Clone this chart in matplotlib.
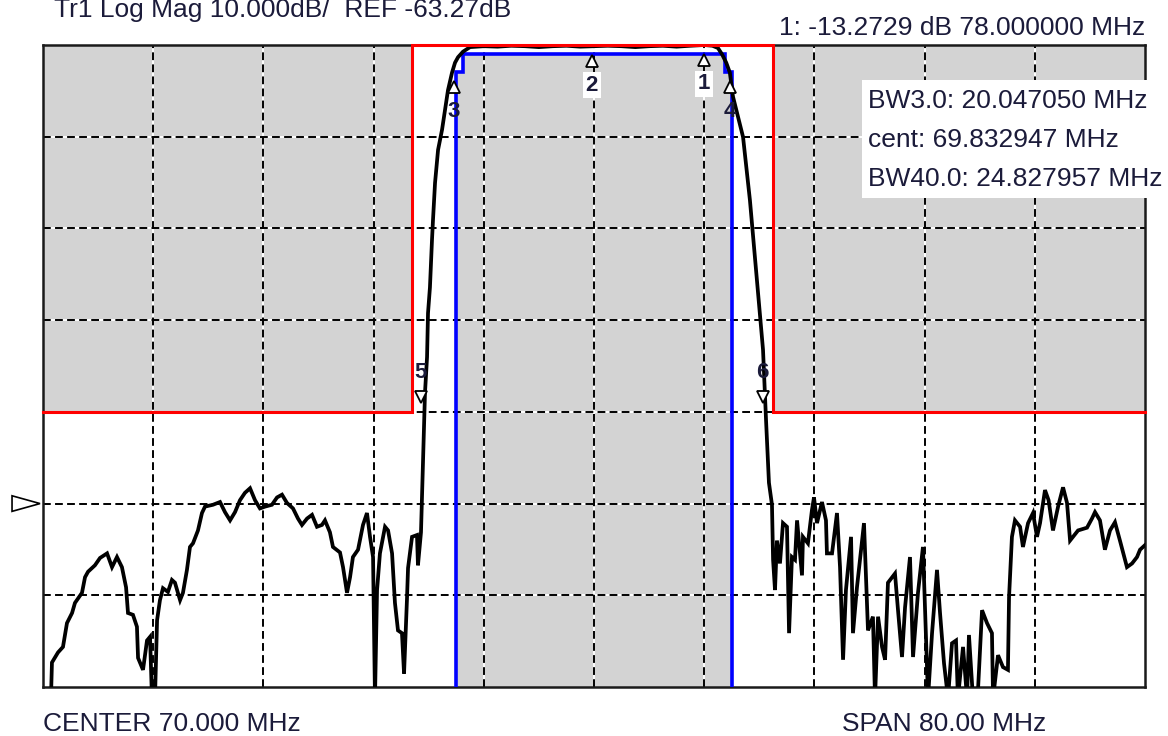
import matplotlib
matplotlib.use("Agg")
import matplotlib.pyplot as plt
import matplotlib.transforms as mtransforms
from matplotlib.patches import Polygon, Rectangle
import numpy as np

plt.rcParams['font.family'] = ['Liberation Sans', 'DejaVu Sans']

# ---------------- instrument settings ----------------
CENTER_MHZ = 70.0
SPAN_MHZ = 80.0
REF_DB = -63.27
SCALE_DB = 10.0
N_XDIV = 10
N_YDIV = 7
REF_DIV_FROM_BOTTOM = 2

# ---------------- measured trace (S21, dB) ----------------
low_stop_f = [30.00, 30.55, 30.65, 31.09, 31.45, 31.74, 32.11, 32.32, 32.83, 33.05,
              33.27, 33.77, 34.14, 34.65, 35.01, 35.37, 35.73, 36.03, 36.17, 36.53,
              36.82, 36.90, 37.26, 37.55, 37.77, 37.91, 38.13, 38.28, 38.49, 38.71,
              39.07, 39.36, 39.58, 39.95, 40.16, 40.45, 40.67, 40.89, 41.25, 41.54,
              41.76, 42.34, 42.85, 43.21, 43.58, 43.94, 44.30, 44.66, 45.03, 45.39,
              45.75, 46.12, 46.62, 46.99, 47.35, 47.71, 48.15, 48.51, 48.80, 49.17,
              49.53, 49.89, 50.25, 50.47, 50.83, 51.05, 51.56, 51.78, 52.07, 52.29,
              52.50, 52.87, 53.23, 53.52, 53.74, 53.96, 54.10, 54.25, 54.46, 54.83,
              55.05, 55.34, 55.55, 55.77, 56.06, 56.21, 56.42, 56.50, 56.79, 57.15,
              57.22, 57.44]
low_stop_db = [-86.0, -86.0, -80.6, -79.5, -78.9, -76.3, -75.2, -74.1, -73.0, -71.3,
               -70.7, -70.0, -69.2, -68.7, -70.2, -69.1, -70.2, -72.4, -75.2, -75.4,
               -76.7, -80.1, -81.4, -78.2, -77.8, -84.5, -84.5, -76.0, -73.8, -72.5,
               -72.9, -71.6, -71.9, -73.8, -73.0, -70.5, -68.0, -67.6, -66.2, -64.3,
               -63.6, -63.4, -63.1, -64.2, -65.1, -64.2, -62.9, -62.1, -61.6, -62.9,
               -63.8, -63.6, -63.4, -62.6, -62.3, -63.2, -63.8, -64.9, -65.6, -64.9,
               -64.5, -65.8, -65.6, -65.1, -66.4, -68.0, -68.6, -70.2, -73.0, -71.3,
               -69.1, -68.3, -65.6, -64.3, -66.9, -69.1, -84.5, -72.7, -68.7, -65.8,
               -66.2, -68.7, -74.1, -77.1, -77.4, -81.8, -73.8, -70.3, -66.9, -66.7,
               -70.0, -66.4]

pass_f = [57.59, 57.73, 57.88, 57.95, 58.09, 58.24, 58.31, 58.46, 58.68, 58.97,
          59.18, 59.40, 59.69, 59.91, 60.13, 60.49, 61.0, 62.0, 63.0, 64.0,
          65.0, 66.0, 67.0, 68.0, 69.0, 70.0, 71.0, 72.0, 73.0, 74.0,
          75.0, 76.0, 77.0, 78.0, 78.6, 79.0, 79.3, 79.6, 79.86, 80.09,
          80.82, 81.32, 81.83, 82.27, 82.49, 82.70]
pass_db = [-58.5, -51.2, -47.3, -42.5, -39.7, -34.5, -32.4, -28.3, -24.7, -22.5,
           -20.4, -18.2, -16.3, -15.2, -14.6, -14.0, -13.5, -13.4, -13.45, -13.35,
           -13.4, -13.5, -13.4, -13.35, -13.45, -13.4, -13.35, -13.4, -13.5, -13.4,
           -13.35, -13.45, -13.35, -13.27, -13.35, -13.6, -14.3, -15.2, -16.27, -18.9,
           -23.3, -30.2, -38.9, -46.5, -54.2, -61.0]

high_stop_f = [82.92, 83.00, 83.14, 83.28, 83.50, 83.72, 84.01, 84.16, 84.37, 84.59,
               84.74, 85.10, 85.17, 85.53, 85.82, 85.97, 86.19, 86.55, 86.84, 86.91,
               87.28, 87.64, 87.86, 88.08, 88.29, 88.66, 88.80, 89.09, 89.60, 89.75,
               89.89, 90.25, 90.40, 90.62, 90.91, 91.13, 91.34, 91.85, 92.07, 92.36,
               92.58, 92.94, 93.16, 93.52, 93.88, 94.03, 94.25, 94.54, 94.90, 95.12,
               95.41, 95.70, 95.99, 96.28, 96.42, 96.79, 97.08, 97.22, 97.51, 97.88,
               98.17, 98.53, 98.89, 98.97, 99.33, 99.69, 100.05, 100.13, 100.34, 100.56,
               100.93, 101.14, 101.51, 101.87, 102.16, 102.38, 102.74, 103.00, 103.32, 103.69,
               104.05, 104.34, 104.56, 104.77, 105.14, 105.79, 106.15, 106.37, 106.73, 107.09,
               107.46, 107.82, 108.18, 108.69, 109.06, 109.42, 109.64, 109.85, 110.00]
high_stop_db = [-63.4, -69.4, -72.7, -67.3, -69.8, -65.4, -65.8, -77.4, -69.1, -69.4,
                -65.1, -71.1, -66.9, -67.6, -64.0, -62.6, -65.4, -63.1, -65.1, -68.7,
                -68.7, -64.3, -70.2, -80.3, -72.7, -66.9, -77.4, -72.4, -65.4, -71.3,
                -77.1, -75.6, -84.5, -75.6, -78.9, -80.3, -71.9, -70.9, -74.9, -80.0,
                -74.6, -69.1, -80.0, -73.0, -68.0, -74.6, -84.5, -77.4, -70.5, -75.2,
                -80.7, -84.5, -78.5, -78.2, -84.5, -78.9, -84.5, -77.6, -84.5, -83.5,
                -74.9, -76.3, -77.4, -84.5, -79.8, -81.1, -81.4, -73.5, -66.9, -65.1,
                -65.8, -68.0, -65.4, -64.3, -66.9, -65.4, -61.8, -62.9, -66.2, -63.6,
                -61.5, -63.2, -67.3, -66.9, -66.2, -65.9, -64.9, -64.2, -65.1, -68.3,
                -66.2, -65.3, -67.3, -70.2, -69.8, -69.1, -68.3, -68.0, -67.8]

# ---------------- limit lines ----------------
upper_limit_f = [30.0, 56.8, 56.8, 83.0, 83.0, 110.0]
upper_limit_db = [-53.27, -53.27, -13.27, -13.27, -53.27, -53.27]
lower_limit_f = [60.0, 60.0, 60.5, 60.5, 79.5, 79.5, 80.0, 80.0]
lower_limit_db = [-95.0, -16.2, -16.2, -14.2, -14.2, -16.2, -16.2, -95.0]

# ---------------- marker readouts ----------------
marker1_db = -13.2729
marker1_f = 78.0
bw3_mhz = 20.047050
cent_mhz = 69.832947
bw40_mhz = 24.827957
bw3_level = -3.0
bw40_level = -40.0

# ---------------- build figure ----------------
freq = np.array(low_stop_f + pass_f + high_stop_f)
s21 = np.array(low_stop_db + pass_db + high_stop_db)

W, H = 1168, 736
fig = plt.figure(figsize=(W / 100, H / 100), dpi=100, facecolor='white')
L, R, T, B = 43, 1145, 45, 687
ax = fig.add_axes([L / W, 1 - B / H, (R - L) / W, (B - T) / H])
ax.set_facecolor('white')

f0 = CENTER_MHZ - SPAN_MHZ / 2
f1 = CENTER_MHZ + SPAN_MHZ / 2
y_bot = REF_DB - REF_DIV_FROM_BOTTOM * SCALE_DB
y_top = y_bot + N_YDIV * SCALE_DB
ax.set_xlim(f0, f1)
ax.set_ylim(y_bot, y_top)

gray = '#d3d3d3'
# fail regions above the upper limit
ax.fill_between(upper_limit_f, upper_limit_db, y_top, color=gray, lw=0, zorder=0.5)
# fail region below the lower limit
ax.fill(lower_limit_f, lower_limit_db, color=gray, lw=0, zorder=0.5)

# graticule: white under-line + black dashes
xt = np.linspace(f0, f1, N_XDIV + 1)[1:-1]
yt = np.linspace(y_bot, y_top, N_YDIV + 1)[1:-1]
for x in xt:
    ax.axvline(x, color='white', lw=1.4, zorder=1)
    ax.axvline(x, color='black', lw=1.4, ls=(0, (4, 2.2)), zorder=1.1)
for y in yt:
    ax.axhline(y, color='white', lw=1.4, zorder=1)
    ax.axhline(y, color='black', lw=1.4, ls=(0, (4, 2.2)), zorder=1.1)

ax.set_xticks([])
ax.set_yticks([])
for sp in ax.spines.values():
    sp.set_linewidth(1.8)
    sp.set_color('#1a1a1a')

# limit lines
ax.plot(upper_limit_f, upper_limit_db, color='#ff0000', lw=2.2, zorder=6, clip_on=False,
        solid_joinstyle='miter')
ax.plot(lower_limit_f, lower_limit_db, color='#0000ff', lw=2.6, zorder=3,
        solid_joinstyle='miter')

# trace
ax.plot(freq, s21, color='black', lw=2.7, zorder=4, solid_joinstyle='miter')

# markers
m_f = [marker1_f, cent_mhz, cent_mhz - bw3_mhz / 2, cent_mhz + bw3_mhz / 2,
       cent_mhz - bw40_mhz / 2, cent_mhz + bw40_mhz / 2]
m_db = [marker1_db, float(np.interp(cent_mhz, freq, s21)),
        marker1_db + bw3_level, marker1_db + bw3_level,
        marker1_db + bw40_level, marker1_db + bw40_level]
txt_col = '#1b1b3a'
for i, (mf, md) in enumerate(zip(m_f, m_db)):
    n = i + 1
    below = n <= 4
    off = -10.5 if below else 10.5
    tr = mtransforms.offset_copy(ax.transData, fig=fig, x=0, y=off, units='points')
    ax.plot([mf], [md], marker='^' if below else 'v', ms=8, mfc='white', mec='black',
            mew=1.3, transform=tr, zorder=7, clip_on=False)
    bbox = dict(boxstyle='square,pad=0.12', fc='white', ec='none') if n in (1, 2) else None
    ax.annotate(str(n), (mf, md), xytext=(0, -28 if below else 28), textcoords='offset points',
                ha='center', va='center', fontsize=16, fontweight='bold', color=txt_col,
                bbox=bbox, zorder=8)

# reference level pointer
ref_tri = Polygon([[-0.0281, REF_DB + 0.85], [-0.0281, REF_DB - 0.85], [-0.0027, REF_DB]],
                  closed=True, fc='white', ec='black', lw=1.2,
                  transform=ax.get_yaxis_transform(), clip_on=False, zorder=5)
ax.add_patch(ref_tri)

FS = 19
# header texts
fig.text(54 / W, 1 - 17 / H, 'Tr1 Log Mag 10.000dB/  REF -63.27dB', fontsize=FS,
         color=txt_col, ha='left', va='baseline')
fig.text(R / W, 1 - 35 / H, f'1: {marker1_db:.4f} dB {marker1_f:.6f} MHz', fontsize=FS,
         color=txt_col, ha='right', va='baseline')

# bandwidth box
box = Rectangle((862 / W, 1 - 198 / H), (W - 862) / W, (198 - 80) / H,
                transform=fig.transFigure, fc='white', ec='none', zorder=20)
fig.add_artist(box)
box_lines = [f'BW3.0: {bw3_mhz:.6f} MHz', f'cent: {cent_mhz:.6f} MHz',
             f'BW40.0: {bw40_mhz:.6f} MHz']
for line, yb in zip(box_lines, [108, 147, 186]):
    fig.text(868 / W, 1 - yb / H, line, fontsize=FS, color=txt_col, ha='left',
             va='baseline', zorder=21)

# footer
fig.text(L / W, 1 - 731 / H, f'CENTER {CENTER_MHZ:.3f} MHz', fontsize=FS, color=txt_col,
         ha='left', va='baseline')
fig.text(842 / W, 1 - 731 / H, f'SPAN {SPAN_MHZ:.2f} MHz', fontsize=FS, color=txt_col,
         ha='left', va='baseline')

fig.savefig('out.png', dpi=100, facecolor='white')
